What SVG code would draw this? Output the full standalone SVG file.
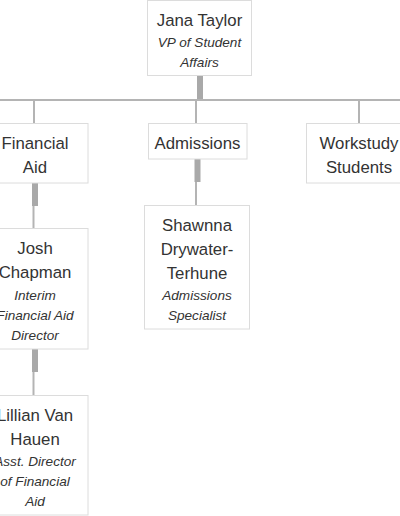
<svg xmlns="http://www.w3.org/2000/svg" width="400" height="516" viewBox="0 0 400 516">
<style>
.box{fill:#fff;stroke:#dcdcdc;stroke-width:1}
.n{font-family:"Liberation Sans",Arial,sans-serif;font-size:16.8px;fill:#333;text-anchor:middle}
.t{font-family:"Liberation Sans",Arial,sans-serif;font-size:13.6px;font-style:italic;fill:#333;text-anchor:middle}
.thin{stroke:#b4b4b4;stroke-width:2;fill:none}
.thick{stroke:#a9a9a9;stroke-width:6;fill:none}
</style>
<rect width="400" height="516" fill="#fff"/>
<g id="connectors">
<line class="thin" x1="0" y1="100" x2="400" y2="100"/>
<line class="thick" x1="200" y1="76" x2="200" y2="99"/>
<line class="thin" x1="34" y1="100" x2="34" y2="123"/>
<line class="thin" x1="196" y1="100" x2="196" y2="123"/>
<line class="thin" x1="359" y1="100" x2="359" y2="123"/>
<line class="thick" x1="197.5" y1="159" x2="197.5" y2="182"/>
<line class="thin" x1="196" y1="182" x2="196" y2="205"/>
<line class="thick" x1="35" y1="183" x2="35" y2="206"/>
<line class="thin" x1="33.5" y1="206" x2="33.5" y2="228"/>
<line class="thick" x1="35" y1="349" x2="35" y2="372"/>
<line class="thin" x1="33.5" y1="372" x2="33.5" y2="395"/>
</g>
<g id="jana">
<rect class="box" x="147.5" y="0.5" width="104" height="75"/>
<text class="n" x="199.5" y="26">Jana Taylor</text>
<text class="t" x="199.5" y="47">VP of Student</text>
<text class="t" x="199.5" y="67">Affairs</text>
</g>
<g id="financial-aid">
<rect class="box" x="-18" y="123.5" width="106" height="59.5"/>
<text class="n" x="35" y="149">Financial</text>
<text class="n" x="35" y="173">Aid</text>
</g>
<g id="admissions">
<rect class="box" x="148.5" y="123.5" width="98.5" height="35.5"/>
<text class="n" x="197.5" y="149">Admissions</text>
</g>
<g id="workstudy">
<rect class="box" x="306.5" y="123.5" width="106" height="59.5"/>
<text class="n" x="359" y="149">Workstudy</text>
<text class="n" x="359" y="173">Students</text>
</g>
<g id="shawnna">
<rect class="box" x="144.5" y="205.5" width="105" height="123.5"/>
<text class="n" x="197" y="231">Shawnna</text>
<text class="n" x="197" y="255">Drywater-</text>
<text class="n" x="197" y="279">Terhune</text>
<text class="t" x="197" y="300">Admissions</text>
<text class="t" x="197" y="320">Specialist</text>
</g>
<g id="josh">
<rect class="box" x="-18" y="228.5" width="106" height="120.5"/>
<text class="n" x="35" y="254">Josh</text>
<text class="n" x="35" y="278">Chapman</text>
<text class="t" x="35" y="300">Interim</text>
<text class="t" x="35" y="320">Financial Aid</text>
<text class="t" x="35" y="340">Director</text>
</g>
<g id="lillian">
<rect class="box" x="-18" y="395.5" width="106" height="119.5"/>
<text class="n" x="35" y="421">Lillian Van</text>
<text class="n" x="35" y="445">Hauen</text>
<text class="t" x="35" y="466">Asst. Director</text>
<text class="t" x="35" y="486">of Financial</text>
<text class="t" x="35" y="506">Aid</text>
</g>
</svg>
